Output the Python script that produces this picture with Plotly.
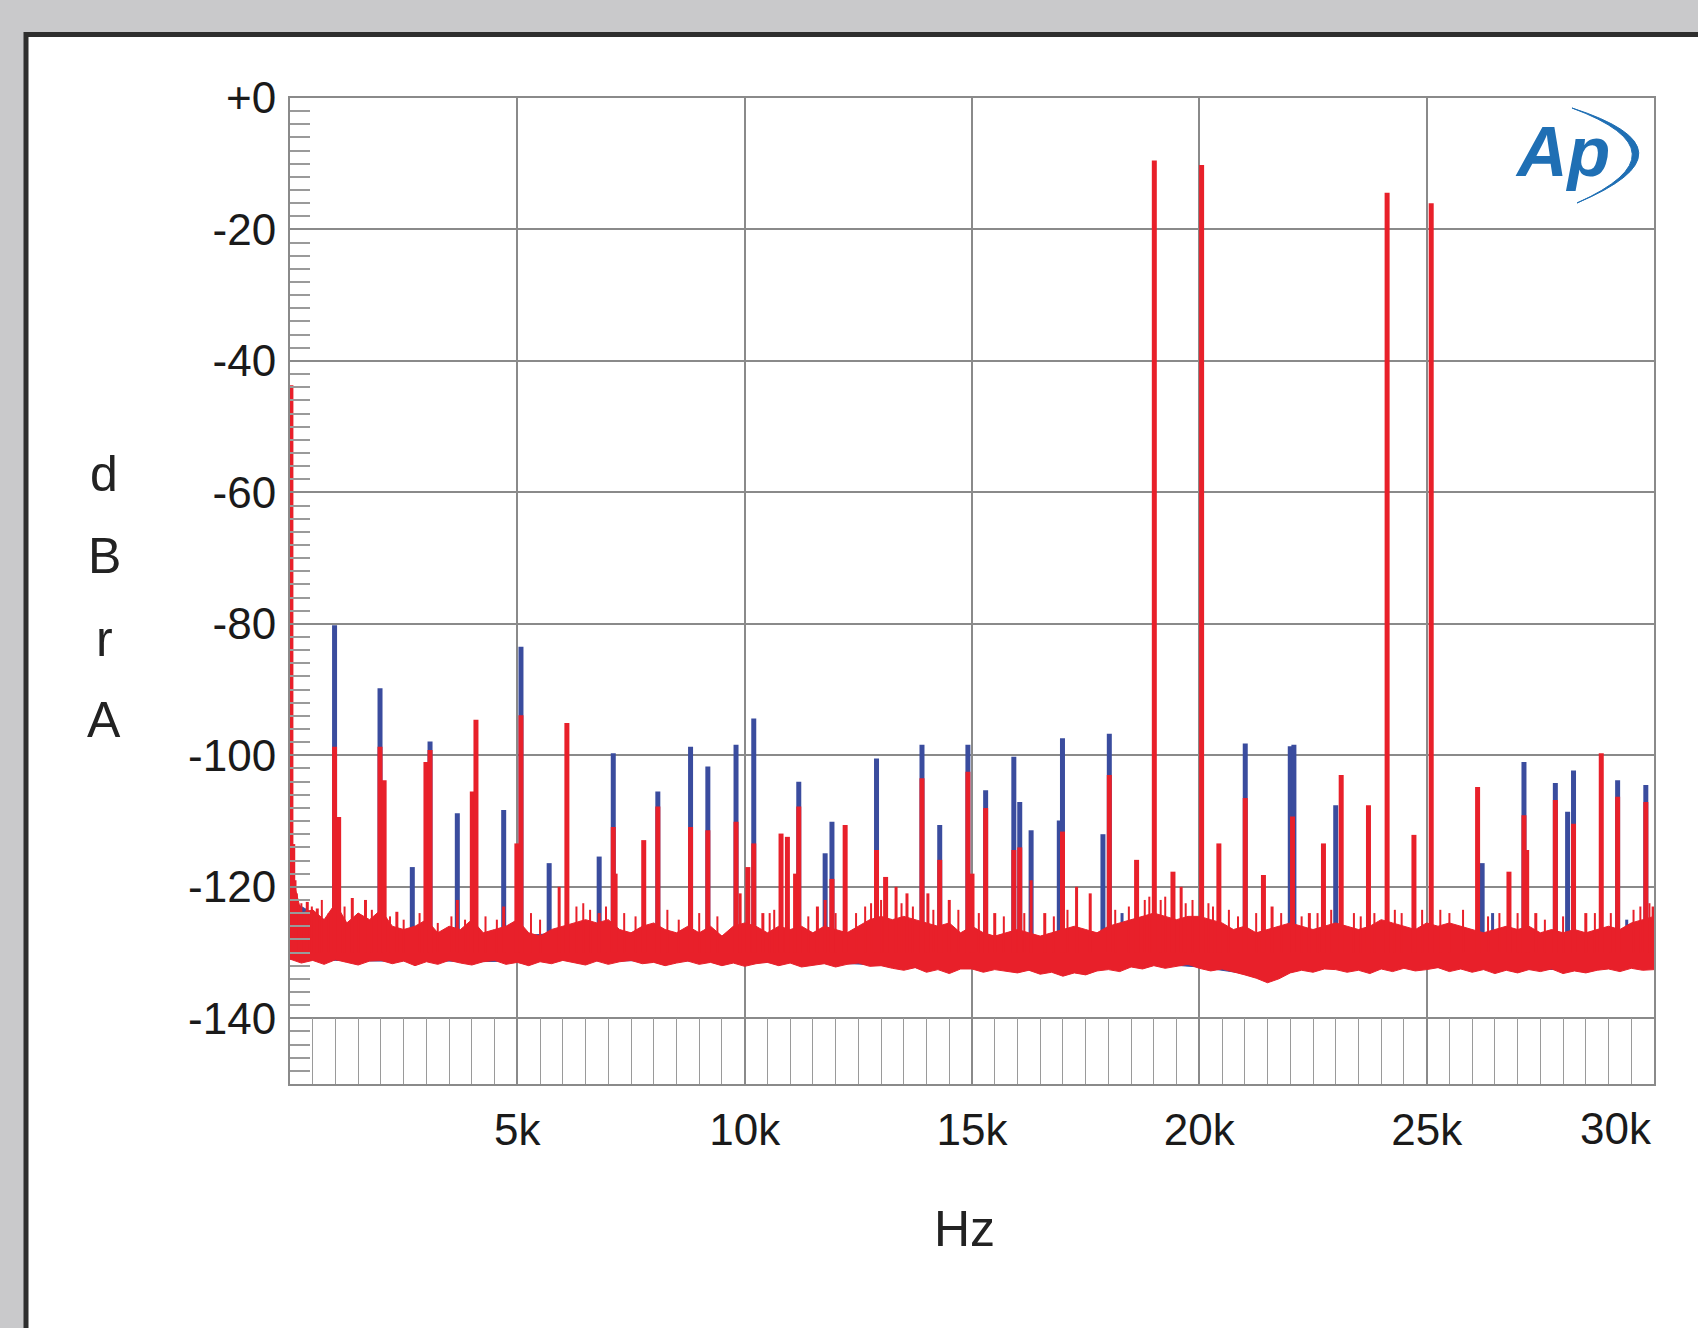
import plotly.graph_objects as go

# ---------------- data ----------------
x_tick_hz = [5000, 10000, 15000, 20000, 25000, 30000]
x_tick_text = ["5k", "10k", "15k", "20k", "25k", "30k"]
y_tick_db = [0, -20, -40, -60, -80, -100, -120, -140]
y_tick_text = ["+0", "-20", "-40", "-60", "-80", "-100", "-120", "-140"]

# red channel: spectral lines (Hz, dBrA)
red_spike_hz = [20, 60, 110, 380, 600, 980, 1070, 1370, 1660, 1980, 2070, 2350, 2990, 3080,
                3680, 4010, 4090, 4700, 4990, 5080, 5920, 6090, 6800, 7110, 7150, 7780, 8090,
                8810, 9190, 9810, 9900, 10070, 10200, 10400, 10800, 10940, 11120, 11190, 11600,
                11770, 11920, 12210, 12900, 13100, 13330, 13570, 13900, 14030, 14290, 14500,
                14910, 15000, 15300, 15500, 15920, 16050, 16300, 16600, 16990, 17300, 17600,
                18020, 18620, 19010, 19420, 19600, 20050, 20430, 21010, 21410, 21600, 22050,
                22420, 22730, 23120, 23720, 24130, 24720, 25100, 26120, 26810, 27140, 27200,
                27400, 27830, 28230, 28500, 28840, 29200, 29820, 29980]
red_spike_db = [-43.7, -113.5, -119, -122.3, -123.3, -98.7, -109.4, -121.7, -122, -98.7, -103.8,
                -123.8, -101, -99.2, -122, -105.5, -94.6, -123, -113.4, -93.9, -120, -95.1, -124,
                -110.9, -118, -112.9, -107.8, -110.9, -111.4, -110.1, -121, -117, -113.4, -124,
                -111.9, -112.4, -118, -107.8, -123, -122, -118.8, -110.6, -114.4, -118.5, -120,
                -121, -103.5, -121, -115.9, -122, -102.5, -118, -108, -124, -114.4, -114, -119,
                -124, -111.6, -120, -121, -103, -115.9, -9.5, -117.7, -120, -10.2, -113.4,
                -106.5, -118.2, -123, -109.3, -124, -113.4, -103, -107.6, -14.4, -112.1, -16.0,
                -104.8, -117.7, -109.1, -114.4, -124, -106.8, -110.4, -124, -99.7, -106.3,
                -107.1, -123]

# red channel: low-level noise "grass" lines above the floor (Hz, dBrA)
red_grass_hz = [150, 250, 480, 700, 850, 1200, 1500, 1800, 2200, 2500, 2850, 3250, 3550, 3850,
                4300, 4550, 5300, 5500, 6300, 6450, 6600, 6950, 7350, 7600, 8300, 8550, 9000,
                9400, 10550, 10650, 11400, 12000, 12450, 12650, 12780, 13000, 13450, 13700,
                14150, 14700, 15150, 15700, 16150, 16800, 17100, 18150, 18450, 18800, 18900,
                19150, 19250, 19700, 19850, 20200, 20300, 20650, 20850, 21250, 21800, 22250,
                22600, 22900, 23400, 23550, 23850, 24300, 24450, 24900, 25300, 25500, 25800,
                26350, 26600, 27000, 27600, 28000, 28700, 29050, 29550, 29700, 29900]
red_grass_db = [-121, -122.5, -123, -122, -124, -123, -124, -123.5, -124.5, -125, -124, -125.5,
                -124.5, -125, -124.5, -125, -124, -125, -123, -122.5, -123.5, -123, -124,
                -124.5, -123.5, -125, -124, -124.5, -124, -123.5, -124.5, -124, -124, -123,
                -122.5, -122, -122.5, -123, -123.5, -123.5, -124, -124.5, -124, -124.5, -123.5,
                -123.5, -123, -122, -121.5, -122, -121.5, -122.5, -122, -122.5, -123, -123.5,
                -124.5, -124, -124, -124.5, -124, -123.5, -124, -124.5, -124, -123.5, -124,
                -123.5, -123.5, -124, -123.5, -124.5, -124, -124, -125, -124.5, -124, -124,
                -123.5, -123, -122.5]

# blue channel: spectral lines (Hz, dBrA)
blue_spike_hz = [980, 1980, 2690, 3080, 3370, 3680, 4700, 5080, 5700, 6800, 7110, 8090, 8810,
                 9190, 9810, 10200, 11190, 11770, 11920, 12900, 13900, 14290, 14910, 15300,
                 15920, 16050, 16300, 16920, 16990, 17880, 18020, 18300, 21010, 22000, 22080,
                 23000, 26220, 26450, 27140, 27830, 28100, 28230, 29200, 29400, 29820]
blue_spike_db = [-80.2, -89.8, -117, -97.9, -127, -108.8, -108.3, -83.5, -116.4, -115.4, -99.7,
                 -105.5, -98.7, -101.7, -98.4, -94.4, -104, -114.9, -110.1, -100.5, -98.4,
                 -110.6, -98.4, -105.3, -100.2, -107.1, -111.4, -109.9, -97.4, -112, -96.7, -124,
                 -98.2, -98.6, -98.4, -107.6, -116.4, -124, -101, -104.2, -108.6, -102.3, -103.8,
                 -125, -104.5]

# red noise floor: upper and lower edge, every 250 Hz
floor_hz = list(range(0, 30001, 250))
red_floor_hi_db = [
    -117, -124, -123.5, -125,      -122.5, -125.5, -124, -125,
    -123.5, -126, -126.5, -126,    -125, -127, -126, -126.5,
    -125, -127, -126.5, -126,      -125, -127, -127.5, -126.5,
    -126, -125.5, -125, -125.5,    -125, -126.5, -127, -126,
    -125.5, -126.5, -127, -126,    -127, -126, -127.5, -126,
    -125.5, -126, -127, -126,      -126.5, -126, -127, -126,
    -126.5, -127, -126, -125,      -124.5, -125, -124.5, -125,
    -125.5, -126, -125.5, -127,    -126, -127, -127.5, -127,
    -126.5, -127, -127.5, -127,    -126.5, -126, -126.5, -127,
    -126, -125.5, -125, -124.5,    -124, -124.5, -125, -124.5,
    -124.5, -125, -125.5, -126.5,  -126, -127, -126.5, -126,
    -125.5, -126, -126.5, -126,    -125.5, -126, -126.5, -126,
    -125, -125.5, -126, -126.5,    -125.5, -126, -125.5, -126,
    -126.5, -127, -126.5, -126,    -126.5, -126, -127, -126.5,
    -127, -126.5, -127, -126.5,    -126, -126.5, -125.5, -125,
    -124.5]
red_floor_lo_db = [
    -131, -131.6, -131.2, -131.8,     -131.1, -131.5, -131.9, -131.3,
    -131.2, -131.7, -131.3, -132,     -131.4, -131.8, -131.2, -131.6,
    -131.9, -131.4, -131.2, -131.8,   -131.5, -132, -131.4, -131.7,
    -131.2, -131.6, -131.9, -131.3,   -131.8, -131.4, -131.2, -131.7,
    -131.5, -132, -131.6, -131.3,     -131.8, -131.5, -132, -131.6,
    -132.1, -131.7, -131.5, -132,     -131.6, -132.2, -132, -131.7,
    -132.2, -131.8, -131.6, -132.1,   -132, -132.4, -132.7, -132.3,
    -133, -132.6, -133.2, -132.5,     -132.5, -133, -132.6, -132.9,
    -133.1, -132.7, -133.3, -133,     -133.6, -133.1, -133.4, -132.8,
    -132.6, -132.9, -132.2, -132.5,   -132, -132.4, -132.1, -131.8,
    -132.4, -132.8, -132.5, -132.9,   -133.4, -133.9, -134.6, -134,
    -133.1, -132.7, -133, -132.5,     -132.6, -133, -132.7, -133.2,
    -132.5, -132.9, -132.4, -132.8,   -132.6, -132.3, -132.9, -132.5,
    -133, -132.6, -133.2, -132.7,     -133.1, -132.6, -132.9, -132.5,
    -133.2, -132.8, -133.1, -132.7,   -132.5, -132.9, -132.4, -132.7,
    -132.6]

# blue noise floor, every 1 kHz (mostly hidden under red)
blue_floor_hz = list(range(0, 30001, 1000))
blue_floor_hi_db = [-122, -126, -127, -127.5, -127.5, -127.5, -127, -127.5, -127.5, -127.5,
                    -127.5, -127.5, -128, -127, -127.5, -128, -128, -128, -127.5, -127,
                    -127, -128, -127.5, -127.5, -127.5, -127.5, -128, -128, -128, -128,
                    -127.5]
blue_floor_lo_db = [-131, -131.2, -131.3, -131.2, -131.4, -131.3, -131.1, -131.3, -131.2, -131.4,
                    -131.5, -131.5, -131.6, -131.9, -132.4, -132.2, -132.6, -132.9, -132.1,
                    -131.7, -132.2, -133.2, -132.6, -132.3, -132.2, -132.2, -132.5, -132.5,
                    -132.6, -132.2, -132.3]

SPIKE_BASE_DB = -130

# ---------------- styling / geometry ----------------
RED = "#e8202a"
BLUE = "#3a4c9e"
GRID = "#8a8a8a"
FONT = "Liberation Sans, Arial, sans-serif"
W, H = 1698, 1328
L, R, T, B = 290, 44, 98, 244
PW, PH = W - L - R, H - T - B


def px(x):
    return (x - L) / PW


def py(y):
    return (H - B - y) / PH


def spikes(hz, db, keep=lambda v: True):
    xs, ys = [], []
    for f, v in zip(hz, db):
        if keep(v):
            xs += [f, f, None]
            ys += [SPIKE_BASE_DB, v, None]
    return xs, ys


def line_trace(xs, ys, color, width):
    return go.Scatter(x=xs, y=ys, mode="lines", line=dict(color=color, width=width),
                      hoverinfo="skip", showlegend=False)


fig = go.Figure()

# blue channel (underneath)
fig.add_trace(go.Scatter(
    x=blue_floor_hz + blue_floor_hz[::-1],
    y=blue_floor_hi_db + blue_floor_lo_db[::-1],
    fill="toself", fillcolor=BLUE, mode="lines",
    line=dict(color=BLUE, width=1), hoverinfo="skip", showlegend=False))
fig.add_trace(line_trace(*spikes(blue_spike_hz, blue_spike_db, lambda v: v > -119), BLUE, 5))
fig.add_trace(line_trace(*spikes(blue_spike_hz, blue_spike_db, lambda v: v <= -119), BLUE, 3))

# red channel (on top)
fig.add_trace(go.Scatter(
    x=floor_hz + floor_hz[::-1],
    y=red_floor_hi_db + red_floor_lo_db[::-1],
    fill="toself", fillcolor=RED, mode="lines",
    line=dict(color=RED, width=1), hoverinfo="skip", showlegend=False))
fig.add_trace(line_trace(*spikes(red_grass_hz, red_grass_db), RED, 2))
fig.add_trace(line_trace(*spikes(red_spike_hz, red_spike_db, lambda v: v > -119), RED, 5))
fig.add_trace(line_trace(*spikes(red_spike_hz, red_spike_db, lambda v: v <= -119), RED, 3))

# panel frame
shapes = [dict(type="rect", xref="paper", yref="paper",
               x0=px(26), y0=py(34.5), x1=px(1780), y1=py(1420),
               line=dict(color="#2e2e2e", width=5), fillcolor="white", layer="below")]


# AP logo arc (crescent)
def pt(x, y):
    return f"{px(x):.5f},{py(y):.5f}"


arc = (f"M {pt(1572,108)} Q {pt(1703,150)} {pt(1577,203)} "
       f"Q {pt(1690,152)} {pt(1572,108)} Z")
shapes.append(dict(type="path", xref="paper", yref="paper", path=arc,
                   fillcolor="#1f6fb4", line=dict(color="#1f6fb4", width=1)))

annotations = []
for letter, yc in zip(["d", "B", "r", "A"], [474, 556, 639, 720]):
    annotations.append(dict(text=letter, xref="paper", yref="paper", x=px(104), y=py(yc),
                            xanchor="center", yanchor="middle", showarrow=False,
                            font=dict(family=FONT, size=50, color="#222222")))
annotations.append(dict(text="Hz", xref="paper", yref="paper", x=px(964), y=py(1229),
                        xanchor="center", yanchor="middle", showarrow=False,
                        font=dict(family=FONT, size=50, color="#222222")))
annotations.append(dict(text=x_tick_text[-1], xref="x", yref="paper", x=x_tick_hz[-1],
                        y=py(1128), xanchor="right", yanchor="middle", showarrow=False,
                        font=dict(family=FONT, size=44, color="#1a1a1a")))
annotations.append(dict(text="Ap", xref="paper", yref="paper", x=px(1562), y=py(152),
                        xanchor="center", yanchor="middle", showarrow=False,
                        font=dict(family=FONT, size=70, color="#1f6fb4",
                                  style="italic", weight="bold")))

fig.update_layout(
    width=W, height=H,
    margin=dict(l=L, r=R, t=T, b=B, pad=0),
    paper_bgcolor="#c9c9cb", plot_bgcolor="white",
    showlegend=False,
    shapes=shapes, annotations=annotations,
    xaxis=dict(range=[0, 30000], tickmode="array", tickvals=x_tick_hz[:-1],
               ticktext=x_tick_text[:-1],
               showgrid=True, gridcolor=GRID, gridwidth=2, zeroline=False,
               showline=True, linecolor=GRID, linewidth=2, mirror=True,
               ticks="inside", ticklen=66, tickcolor=GRID, tickwidth=2,
               minor=dict(dtick=500, tick0=0, ticks="inside", ticklen=66,
                          tickcolor="#9a9a9a", tickwidth=1, showgrid=False),
               tickfont=dict(family=FONT, size=44, color="#1a1a1a"),
               ticklabelstandoff=6, fixedrange=True),
    yaxis=dict(range=[-150, 0], tickmode="array", tickvals=y_tick_db, ticktext=y_tick_text,
               showgrid=True, gridcolor=GRID, gridwidth=2, zeroline=False,
               showline=True, linecolor=GRID, linewidth=2, mirror=True,
               ticks="inside", ticklen=20, tickcolor=GRID, tickwidth=2,
               minor=dict(dtick=2, tick0=0, ticks="inside", ticklen=20,
                          tickcolor="#9a9a9a", tickwidth=1.5, showgrid=False),
               tickfont=dict(family=FONT, size=44, color="#1a1a1a"),
               ticklabelstandoff=3, fixedrange=True),
)

fig.write_html("out.html")
